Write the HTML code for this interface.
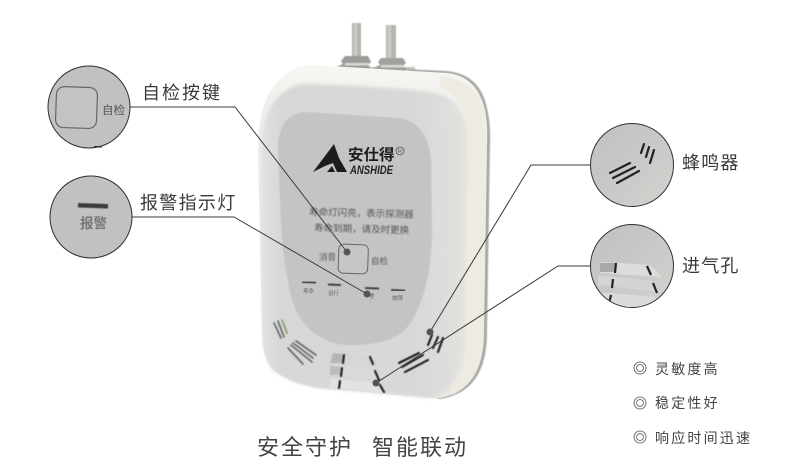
<!DOCTYPE html>
<html>
<head>
<meta charset="utf-8">
<style>
html,body{margin:0;padding:0;background:#fff;width:790px;height:473px;overflow:hidden}
svg{display:block}
text{font-family:"Liberation Sans","Noto Sans CJK SC",sans-serif}
</style>
</head>
<body>
<svg width="790" height="473" viewBox="0 0 790 473" xmlns="http://www.w3.org/2000/svg">
<defs>
<linearGradient id="face" x1="0" y1="0" x2="1" y2="0">
<stop offset="0" stop-color="#e2e2e0"/><stop offset=".1" stop-color="#d6d7d6"/><stop offset=".8" stop-color="#d9d9d8"/><stop offset="1" stop-color="#e4e3df"/>
</linearGradient>
<linearGradient id="top" x1="0" y1="0" x2="0" y2="1">
<stop offset="0" stop-color="#f8f7f4"/><stop offset=".1" stop-color="#efefec"/><stop offset="1" stop-color="#e6e6e3"/>
</linearGradient>
<linearGradient id="zoomg" x1="0" y1="0" x2="1" y2="1">
<stop offset="0" stop-color="#bfc0bf"/><stop offset="1" stop-color="#d2d2cf"/>
</linearGradient>
<filter id="soft" x="-5%" y="-5%" width="110%" height="110%"><feGaussianBlur stdDeviation=".4"/></filter>
<filter id="soft2" x="-10%" y="-10%" width="120%" height="120%"><feGaussianBlur stdDeviation="1.500"/></filter>
<clipPath id="c3"><circle cx="632" cy="165" r="41"/></clipPath>
<clipPath id="c4"><circle cx="632" cy="266" r="41"/></clipPath>
</defs>

<!-- bolts -->
<g filter="url(#soft)">
<rect x="328" y="67" width="87" height="8" fill="#c2c3bf"/>
<rect x="352" y="23" width="9" height="36" fill="#b3b6b0"/>
<rect x="386" y="25" width="10" height="36" fill="#b3b6b0"/>
<rect x="354" y="23" width="3" height="36" fill="#cbcdc8"/>
<rect x="388" y="25" width="3" height="36" fill="#cbcdc8"/>
<path d="M345 56h23l3 6-3 3 3 3v5h-37l2-6 7-3-2-3z" fill="#9a9d97"/>
<path d="M381 58h22l3 5-3 3 3 2v6h-35l2-6 7-3-2-3z" fill="#9fa29c"/>
<rect x="345" y="63" width="24" height="2.500" fill="#d8d8d4"/>
<rect x="381" y="65" width="23" height="2.500" fill="#d8d8d4"/>
<rect x="347" y="69" width="12" height="3" fill="#b9bab6"/>
<rect x="383" y="70" width="12" height="3" fill="#b9bab6"/>
</g>

<!-- body: back rim -->
<path d="M405 69 L447 71 Q480 74 487 108 Q491 125 490 145 L487 335 Q486 392 440 399 L430 396 L460 100Z" fill="#a9aaa6" filter="url(#soft)"/>
<!-- body: white shell -->
<path d="M312 65 L447 73 Q477 76 485 110 Q488 125 487 145 L484 335 Q483 390 440 398 L410 396 L320 388 Q290 384 272 369 Q263 358 262 335 L258 150 Q257 92 290 71 Q300 65 312 65Z" fill="url(#top)"/>
<!-- cream side -->
<path d="M440 76 Q476 80 484 112 L486 145 L483 335 Q482 380 452 395 L450 380 Q464 365 464 335 L467 130 Q466 100 440 86Z" fill="#eeebe2" filter="url(#soft)"/>
<!-- front face -->
<path d="M300 84 Q370 85 430 92 Q466 98 467 135 L465 335 Q465 388 432 398 L410 396 L320 388 Q290 384 272 369 Q264 358 263 335 L261 150 Q262 96 300 84Z" fill="url(#face)" filter="url(#soft2)"/>
<!-- panel -->
<path d="M305 112 L400 118 Q428 124 431 160 L432 235 Q430 300 405 330 Q385 347 345 345 Q305 340 292 300 Q283 265 281 220 L278 150 Q278 114 305 112Z" fill="#c3c4c3" filter="url(#soft)"/>

<!-- logo -->
<path d="M313 172 L334 144 L339 158 L347 172 L337 172 L333 163 L325 166Z" fill="#1b1d1d"/>
<path d="M327 172 L332 166 L335 172Z" fill="#1b1d1d"/>
<text x="348" y="160" font-size="15.500" font-weight="bold" fill="#1d1d1d">安仕得</text>
<circle cx="400" cy="151" r="4" fill="none" stroke="#555" stroke-width=".8"/>
<text x="398" y="153" font-size="5.500" fill="#555">R</text>
<text x="350" y="174" font-size="11.500" font-weight="bold" font-style="italic" fill="#222" textLength="43" lengthAdjust="spacingAndGlyphs">ANSHIDE</text>

<g fill="#555" font-size="9.500" filter="url(#soft)">
<text x="309" y="215" transform="rotate(1.500 309 215)">寿命灯闪亮，表示探测器</text>
<text x="314" y="231" transform="rotate(1.500 314 231)">寿命到期，请及时更换</text>
<text x="319" y="260" font-size="8.500">消音</text>
<text x="371" y="264" font-size="8.500">自检</text>
</g>
<rect x="338.500" y="244.500" width="29.500" height="29" rx="5" fill="#c5c6c5" stroke="#666" stroke-width="1" transform="rotate(2 353 259)"/>

<!-- indicators -->
<g stroke="#333" stroke-width="1.800" filter="url(#soft)">
<line x1="302" y1="282" x2="316" y2="282.500"/>
<line x1="328" y1="284.500" x2="341" y2="285"/>
<line x1="365" y1="288" x2="379" y2="288.500"/>
<line x1="391" y1="290" x2="405" y2="290.500"/>
</g>
<g font-size="5.500" fill="#666">
<text x="303" y="293">寿命</text>
<text x="328" y="295">运行</text>
<text x="369" y="298">警</text>
<text x="392" y="300">故障</text>
</g>

<!-- vents -->
<g filter="url(#soft)">
<polygon points="333,353 370,356 383,367 330,363" fill="#d6d6d4"/>
<polygon points="330,366 378,370 382,380 330,375" fill="#dadad8"/>
<polygon points="330,378 377,383 385,393 330,388" fill="#e2e2e0"/>
<polygon points="333,353 343,354 342,363 330,363" fill="#b5b6b4"/>
<polygon points="330,366 341,367 340,375 330,375" fill="#bcbdbb"/>
</g>
<g stroke-linecap="round" filter="url(#soft)">
<g stroke="#6b6b6b" stroke-width="1.700">
<line x1="274" y1="323" x2="281" y2="338"/><line x1="278" y1="321" x2="284" y2="337"/>
<line x1="282" y1="320" x2="287" y2="333" stroke="#84a070"/>
<line x1="288" y1="348" x2="303" y2="364"/><line x1="291" y1="345" x2="312" y2="362"/>
<line x1="293" y1="343" x2="313" y2="358"/><line x1="296" y1="341" x2="316" y2="355"/>
</g>
<g stroke="#1c1c1c" stroke-width="2.100">
<line x1="344" y1="355" x2="343" y2="363"/><line x1="370" y1="357" x2="373" y2="364"/>
<line x1="342" y1="368" x2="341" y2="376"/><line x1="375" y1="371" x2="379" y2="380"/>
<line x1="340" y1="381" x2="339" y2="388"/><line x1="380" y1="385" x2="384" y2="392"/>
<line x1="432" y1="335" x2="428" y2="345"/><line x1="438" y1="337" x2="433" y2="348"/>
<line x1="443" y1="338" x2="438" y2="352"/>
<line x1="399" y1="363" x2="419" y2="353"/><line x1="402" y1="367" x2="423" y2="355"/>
<line x1="405" y1="372" x2="428" y2="360"/>
</g>
</g>

<!-- connectors -->
<g fill="none" stroke="#3a3a3a" stroke-width="1">
<polyline points="130,107 235,107 347,252"/>
<polyline points="132,217 234,217 367,294"/>
<polyline points="591,165 531,165 430,332"/>
<polyline points="591,266 558,266 376,383"/>
</g>
<g fill="#555">
<circle cx="347" cy="252" r="3.500"/>
<circle cx="367" cy="294" r="3.500"/>
<circle cx="430" cy="332" r="3.500"/>
<circle cx="376" cy="383" r="3.500"/>
</g>

<!-- callout circle 1 -->
<circle cx="89" cy="107" r="41" fill="#c1c1c1" stroke="#2f2f2f" stroke-width="1"/>
<rect x="56" y="87" width="41" height="41" rx="8" fill="#c3c3c3" stroke="#666" stroke-width="1.200" transform="rotate(2 76 107)"/>
<text x="102" y="114" font-size="11.500" fill="#555">自检</text>
<rect x="94" y="146" width="8" height="1.500" fill="#333"/>

<!-- callout circle 2 -->
<circle cx="91" cy="217" r="41" fill="#c1c1c1" stroke="#2f2f2f" stroke-width="1"/>
<rect x="78" y="203.500" width="30" height="4.500" fill="#3a3a3a" filter="url(#soft)" transform="rotate(2 93 206)"/>
<text x="80" y="228" font-size="13.500" font-weight="bold" fill="#777">报警</text>

<!-- callout circle 3 -->
<circle cx="632" cy="165" r="41.500" fill="url(#zoomg)" stroke="#333" stroke-width="1"/>
<g stroke="#222" stroke-width="2.200" stroke-linecap="round" clip-path="url(#c3)">
<line x1="641" y1="153" x2="644" y2="144"/><line x1="646" y1="157" x2="649" y2="147"/><line x1="650" y1="163" x2="654" y2="150"/>
<line x1="610" y1="173" x2="630" y2="163"/><line x1="613" y1="178" x2="635" y2="167"/><line x1="617" y1="183" x2="639" y2="171"/>
</g>

<!-- callout circle 4 -->
<circle cx="632" cy="266" r="41.500" fill="url(#zoomg)" stroke="#333" stroke-width="1"/>
<g clip-path="url(#c4)">
<polygon points="600,262 650,265 662,277 600,273" fill="#dcdcda"/>
<polygon points="600,263 616,263 615,272 600,272" fill="#a9aaa8"/>
<polygon points="598,275 652,281 658,292 598,285" fill="#d4d4d2"/>
<polygon points="598,292 655,297 665,307 598,307" fill="#dadad8"/>
<g stroke="#222" stroke-width="2.200">
<line x1="616" y1="263" x2="615" y2="273"/><line x1="647" y1="266" x2="651" y2="275"/>
<line x1="613" y1="279" x2="612" y2="288"/><line x1="653" y1="283" x2="657" y2="293"/>
<line x1="611" y1="295" x2="609" y2="304"/>
</g>
</g>

<!-- labels -->
<g fill="#3a3a3a" font-size="18" letter-spacing="2">
<text x="142" y="99">自检按键</text>
<text x="140" y="209" letter-spacing="1.300">报警指示灯</text>
<text x="682" y="169" letter-spacing="1.200">蜂鸣器</text>
<text x="682" y="272" letter-spacing="1.200">进气孔</text>
</g>

<!-- list -->
<g fill="none" stroke="#777" stroke-width="1">
<circle cx="640" cy="368" r="6"/><circle cx="640" cy="368" r="3.500"/>
<circle cx="640" cy="403" r="6"/><circle cx="640" cy="403" r="3.500"/>
<circle cx="640" cy="437" r="6"/><circle cx="640" cy="437" r="3.500"/>
</g>
<g fill="#444" font-size="14" letter-spacing="2.200">
<text x="655" y="374">灵敏度高</text>
<text x="655" y="408">稳定性好</text>
<text x="655" y="443">响应时间迅速</text>
</g>

<!-- caption -->
<g fill="#444" font-size="22" letter-spacing="2">
<text x="257" y="455">安全守护</text>
<text x="372" y="455">智能联动</text>
</g>
</svg>
</body>
</html>
